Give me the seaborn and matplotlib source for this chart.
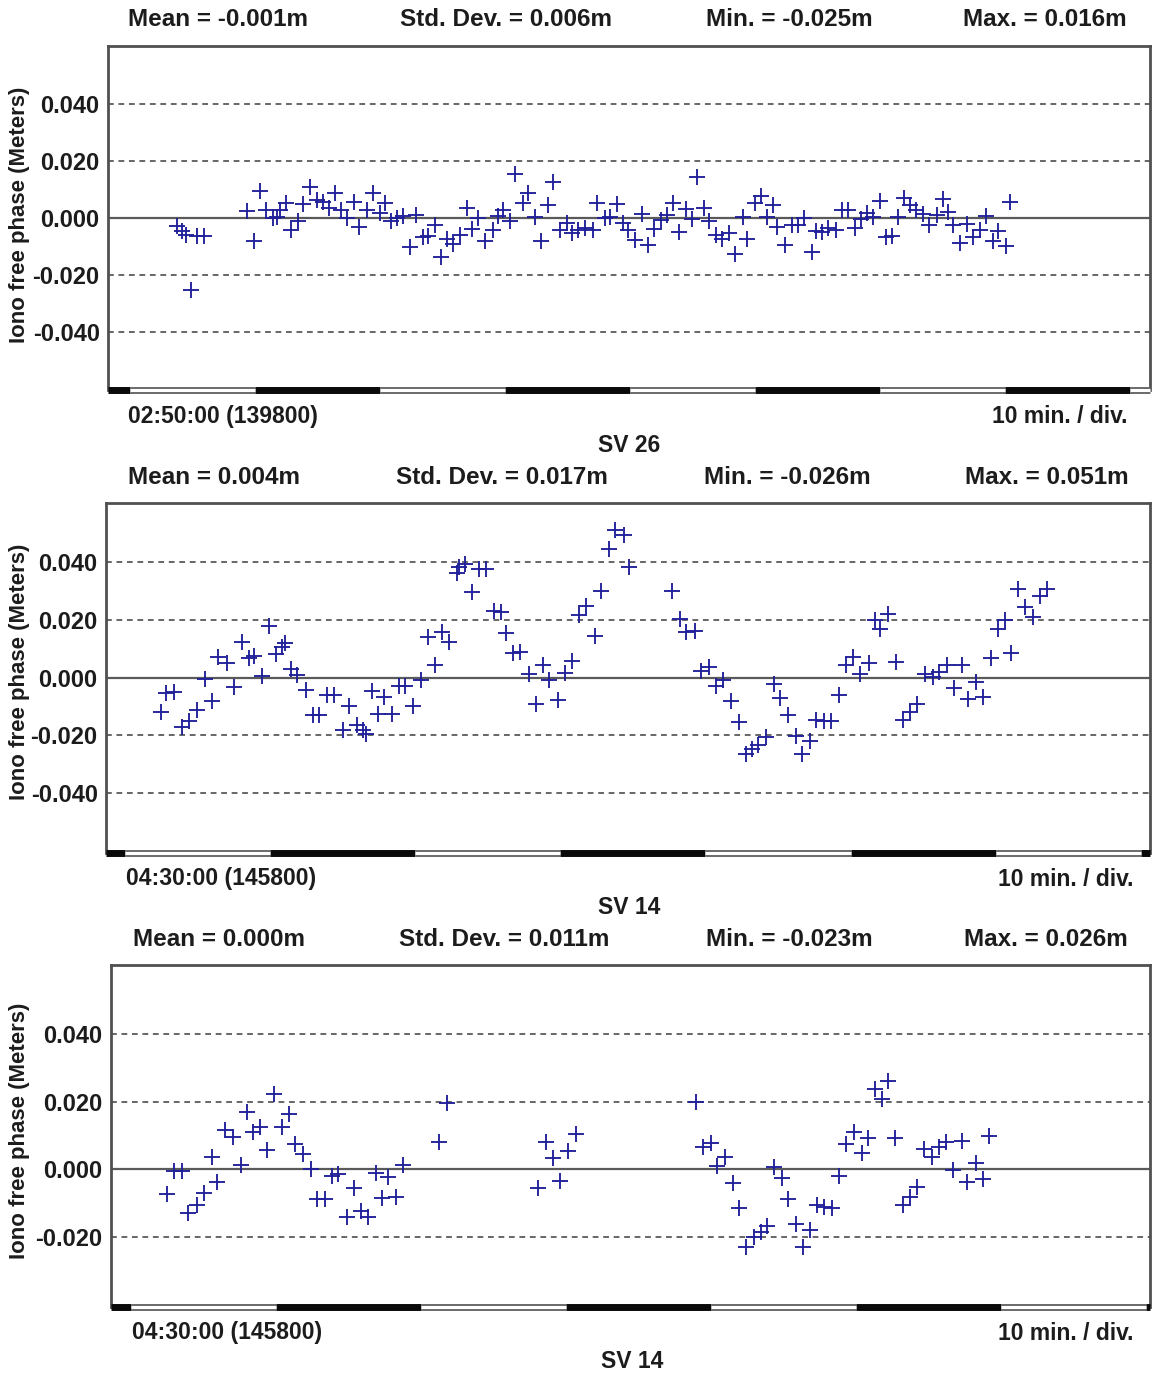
import matplotlib
matplotlib.use("Agg")
import matplotlib.pyplot as plt
import matplotlib.transforms as mtransforms
import seaborn as sns

# ---------------------------------------------------------------------------
# Iono-free phase residuals (minutes after start of pass, metres)
# ---------------------------------------------------------------------------
sv26_minutes = [
    5.54, 5.90, 6.24, 6.62, 7.10, 7.68, 11.10, 11.68, 12.16, 12.62,
    13.18, 13.50, 13.76, 14.22, 14.62, 15.22, 15.58, 16.16, 16.70, 17.18,
    17.70, 18.16, 18.62, 19.14, 19.68, 20.10, 20.70, 21.18, 21.76, 22.16,
    22.62, 23.10, 23.62, 24.16, 24.64, 25.18, 25.62, 26.16, 26.62, 27.10,
    27.62, 28.16, 28.70, 29.10, 29.62, 30.16, 30.78, 31.22, 31.62, 32.16,
    32.56, 33.18, 33.62, 34.16, 34.62, 35.22, 35.62, 36.16, 36.70, 37.10,
    37.62, 38.16, 38.78, 39.14, 39.76, 40.16, 40.74, 41.18, 41.62, 42.16,
    42.70, 43.22, 43.68, 44.22, 44.70, 45.22, 45.70, 46.24, 46.70, 47.10,
    47.68, 48.10, 48.64, 49.10, 49.70, 50.16, 50.78, 51.14, 51.76, 52.22,
    52.70, 53.22, 53.54, 54.16, 54.70, 55.22, 55.68, 56.30, 56.64, 57.10,
    57.62, 58.24, 58.70, 59.22, 59.76, 60.22, 60.74, 61.22, 61.76, 62.24,
    62.70, 63.22, 63.68, 64.16, 64.64, 65.18, 65.70, 66.30, 66.78, 67.22,
    67.62, 68.16, 68.70, 69.18, 69.76, 70.24, 70.78, 71.22, 71.84, 72.16,
]
sv26_resid = [
    -0.0028, -0.0046, -0.0060, -0.0253, -0.0063, -0.0063, 0.0025, -0.0080, 0.0096, 0.0028,
    -0.0001, 0.0005, 0.0028, 0.0053, -0.0042, -0.0009, 0.0049, 0.0108, 0.0063, 0.0057,
    0.0034, 0.0087, 0.0028, -0.0001, 0.0057, -0.0031, 0.0028, 0.0087, 0.0016, 0.0054,
    -0.0009, -0.0001, 0.0007, -0.0101, 0.0011, -0.0068, -0.0063, -0.0025, -0.0138, -0.0075,
    -0.0091, -0.0060, 0.0034, -0.0040, -0.0001, -0.0080, -0.0042, 0.0007, 0.0028, -0.0009,
    0.0154, 0.0052, 0.0087, 0.0005, -0.0080, 0.0046, 0.0127, -0.0042, -0.0016, -0.0054,
    -0.0042, -0.0036, -0.0042, 0.0054, -0.0001, 0.0005, 0.0049, -0.0019, -0.0042, -0.0077,
    0.0014, -0.0095, -0.0040, -0.0007, 0.0011, 0.0052, -0.0048, 0.0031, -0.0005, 0.0143,
    0.0034, -0.0009, -0.0060, -0.0075, -0.0054, -0.0126, 0.0005, -0.0075, 0.0054, 0.0077,
    0.0005, 0.0046, -0.0033, -0.0095, -0.0025, -0.0025, -0.0001, -0.0118, -0.0045, -0.0048,
    -0.0036, -0.0042, 0.0028, 0.0028, -0.0036, -0.0005, 0.0019, 0.0005, 0.0061, -0.0066,
    -0.0063, 0.0005, 0.0069, 0.0046, 0.0028, 0.0014, -0.0025, 0.0011, 0.0066, 0.0022,
    -0.0025, -0.0087, -0.0021, -0.0068, -0.0042, 0.0007, -0.0080, -0.0045, -0.0098, 0.0057,
]

sv14a_minutes = [
    3.77, 4.12, 4.69, 5.26, 5.72, 6.30, 6.83, 7.33, 7.75, 8.37,
    8.83, 9.36, 9.86, 10.21, 10.74, 11.24, 11.70, 12.12, 12.35, 12.74,
    13.19, 13.77, 14.23, 14.69, 15.26, 15.72, 16.30, 16.76, 17.26, 17.68,
    17.91, 18.32, 18.71, 19.17, 19.70, 20.21, 20.62, 21.12, 21.70, 22.16,
    22.69, 23.15, 23.66, 24.16, 24.35, 24.76, 25.22, 25.72, 26.19, 26.76,
    27.22, 27.57, 28.02, 28.53, 29.13, 29.64, 30.09, 30.55, 31.13, 31.59,
    32.12, 32.57, 33.08, 33.66, 34.12, 34.64, 35.10, 35.66, 36.02, 39.01,
    39.52, 39.98, 40.55, 41.01, 41.54, 42.05, 42.50, 43.08, 43.61, 44.07,
    44.53, 44.92, 45.45, 46.00, 46.41, 46.99, 47.52, 47.98, 48.48, 48.95,
    49.45, 49.98, 50.50, 51.01, 51.47, 51.98, 52.57, 52.97, 53.36, 53.88,
    54.41, 54.88, 55.38, 55.88, 56.42, 56.95, 57.40, 57.91, 58.42, 58.95,
    59.40, 59.93, 60.44, 60.95, 61.47, 61.93, 62.32, 62.85, 63.31, 63.84,
    64.34, 64.85,
]
sv14a_resid = [
    -0.0120, -0.0054, -0.0051, -0.0172, -0.0149, -0.0114, -0.0004, -0.0080, 0.0073, 0.0049,
    -0.0031, 0.0122, 0.0068, 0.0076, 0.0007, 0.0180, 0.0082, 0.0107, 0.0119, 0.0030,
    0.0010, -0.0043, -0.0131, -0.0131, -0.0059, -0.0059, -0.0183, -0.0100, -0.0166, -0.0183,
    -0.0195, -0.0047, -0.0126, -0.0068, -0.0126, -0.0028, -0.0028, -0.0100, -0.0010, 0.0139,
    0.0042, 0.0157, 0.0122, 0.0364, 0.0382, 0.0395, 0.0295, 0.0376, 0.0376, 0.0232,
    0.0226, 0.0153, 0.0084, 0.0088, 0.0013, -0.0093, 0.0042, -0.0010, -0.0077, 0.0015,
    0.0059, 0.0218, 0.0249, 0.0145, 0.0301, 0.0445, 0.0511, 0.0495, 0.0384, 0.0301,
    0.0203, 0.0157, 0.0163, 0.0022, 0.0036, -0.0028, -0.0010, -0.0082, -0.0155, -0.0266,
    -0.0247, -0.0235, -0.0207, -0.0024, -0.0070, -0.0131, -0.0201, -0.0266, -0.0220, -0.0146,
    -0.0149, -0.0151, -0.0062, 0.0042, 0.0070, 0.0013, 0.0049, 0.0200, 0.0168, 0.0220,
    0.0053, -0.0146, -0.0120, -0.0093, 0.0013, 0.0001, 0.0018, 0.0042, -0.0036, 0.0042,
    -0.0074, -0.0016, -0.0068, 0.0068, 0.0169, 0.0200, 0.0084, 0.0307, 0.0243, 0.0209,
    0.0284, 0.0307,
]

sv14b_minutes = [
    3.84, 4.34, 4.88, 5.33, 5.91, 6.41, 6.95, 7.33, 7.86, 8.39,
    8.95, 9.36, 9.81, 10.28, 10.78, 11.24, 11.77, 12.30, 12.69, 13.26,
    13.77, 14.23, 14.76, 15.22, 15.68, 16.26, 16.76, 17.22, 17.75, 18.28,
    18.67, 19.13, 19.66, 20.16, 22.64, 23.15, 29.47, 30.00, 30.46, 30.97,
    31.54, 32.07, 40.35, 40.81, 41.36, 41.82, 42.35, 42.88, 43.33, 43.80,
    44.35, 44.81, 45.26, 45.73, 46.26, 46.71, 47.24, 47.71, 48.21, 48.71,
    49.18, 49.71, 50.23, 50.69, 51.24, 51.77, 52.23, 52.69, 53.15, 53.61,
    54.07, 54.60, 55.11, 55.61, 56.07, 56.60, 57.13, 57.59, 58.09, 58.67,
    59.06, 59.66, 60.12, 60.58,
]
sv14b_resid = [
    -0.0072, -0.0006, -0.0006, -0.0127, -0.0105, -0.0068, 0.0038, -0.0036, 0.0117, 0.0095,
    0.0013, 0.0168, 0.0109, 0.0124, 0.0058, 0.0223, 0.0124, 0.0164, 0.0075, 0.0046,
    0.0001, -0.0088, -0.0088, -0.0019, -0.0013, -0.0139, -0.0055, -0.0122, -0.0139, -0.0009,
    -0.0085, -0.0023, -0.0082, 0.0013, 0.0082, 0.0195, -0.0055, 0.0082, 0.0033, -0.0033,
    0.0055, 0.0105, 0.0198, 0.0065, 0.0079, 0.0010, 0.0036, -0.0041, -0.0114, -0.0228,
    -0.0198, -0.0183, -0.0167, 0.0006, -0.0026, -0.0088, -0.0161, -0.0228, -0.0178, -0.0105,
    -0.0110, -0.0114, -0.0019, 0.0075, 0.0109, 0.0048, 0.0092, 0.0237, 0.0207, 0.0259,
    0.0092, -0.0105, -0.0080, -0.0051, 0.0060, 0.0036, 0.0065, 0.0082, -0.0001, 0.0085,
    -0.0036, 0.0018, -0.0029, 0.0099,
]

# Header statistics and captions
stats_sv26 = ["Mean = -0.001m", "Std. Dev. = 0.006m", "Min. = -0.025m", "Max. = 0.016m"]
stats_sv14a = ["Mean = 0.004m", "Std. Dev. = 0.017m", "Min. = -0.026m", "Max. = 0.051m"]
stats_sv14b = ["Mean = 0.000m", "Std. Dev. = 0.011m", "Min. = -0.023m", "Max. = 0.026m"]
start_labels = ["02:50:00 (139800)", "04:30:00 (145800)", "04:30:00 (145800)"]
sv_labels = ["SV 26", "SV 14", "SV 14"]
scale_label = "10 min. / div."
y_label = "Iono free phase (Meters)"

ticks_full = [0.04, 0.02, 0.0, -0.02, -0.04]
ticks_full_labels = ["0.040", "0.020", "0.000", "-0.020", "-0.040"]
ticks_short = [0.04, 0.02, 0.0, -0.02]
ticks_short_labels = ["0.040", "0.020", "0.000", "-0.020"]

# ---------------------------------------------------------------------------
W, H = 1152, 1373
DPI = 100
sns.set_style("white")
plt.rcParams["font.family"] = ["Liberation Sans", "DejaVu Sans"]
plt.rcParams["font.weight"] = "bold"

fig = plt.figure(figsize=(W / DPI, H / DPI), dpi=DPI)
fig.patch.set_facecolor("white")

MARK = "#20209a"
TXT = "#1c1c1c"
GRID = "#5a5a5a"


def px(x, y):
    return x / W, 1 - y / H


panels = [
    dict(box=(108, 46, 1150, 390), t=sv26_minutes, v=sv26_resid, xmax=83.36,
         ylim=(-0.0603, 0.0603), ticks=ticks_full, labels=ticks_full_labels,
         bar0=1.76, stats=stats_sv26, stat_x=(128, 400, 706, 963), stat_y=20,
         start=start_labels[0], sv=sv_labels[0], cap_y=417, sv_xy=(629, 446),
         start_x=128, scale_x=1128, ylab_y=215),
    dict(box=(106, 503, 1150, 853), t=sv14a_minutes, v=sv14a_resid, xmax=71.93,
         ylim=(-0.0608, 0.0605), ticks=ticks_full, labels=ticks_full_labels,
         bar0=1.3, stats=stats_sv14a, stat_x=(128, 396, 704, 965), stat_y=478,
         start=start_labels[1], sv=sv_labels[1], cap_y=879, sv_xy=(629, 908),
         start_x=126, scale_x=1133, ylab_y=672),
    dict(box=(111, 965, 1150, 1307), t=sv14b_minutes, v=sv14b_resid, xmax=71.66,
         ylim=(-0.0405, 0.0602), ticks=ticks_short, labels=ticks_short_labels,
         bar0=1.4, stats=stats_sv14b, stat_x=(133, 399, 706, 964), stat_y=940,
         start=start_labels[2], sv=sv_labels[2], cap_y=1333, sv_xy=(632, 1362),
         start_x=132, scale_x=1133, ylab_y=1131),
]

for p in panels:
    x0, y0, x1, y1 = p["box"]
    ax = fig.add_axes([x0 / W, 1 - y1 / H, (x1 - x0) / W, (y1 - y0) / H])
    ax.set_facecolor("white")

    # reference lines
    for tv in p["ticks"]:
        if tv == 0.0:
            ax.axhline(0.0, color=GRID, lw=1.6, zorder=1)
        else:
            ax.axhline(tv, color=GRID, lw=1.3, ls=(0, (3.2, 2.6)), zorder=1)

    sns.scatterplot(x=p["t"], y=p["v"], marker="+", s=130, color=MARK,
                    linewidth=1.35, ax=ax, zorder=3, legend=False)

    ax.set_xlim(0, p["xmax"])
    ax.set_ylim(*p["ylim"])
    ax.set_xticks([])
    ax.set_yticks(p["ticks"])
    ax.set_yticklabels(p["labels"], fontsize=17, fontweight="bold", color=TXT)
    ax.tick_params(axis="y", length=0, pad=6)
    ax.set_xlabel("")
    ax.set_ylabel("")

    for side in ("top", "left", "right"):
        ax.spines[side].set_color("#505050")
        ax.spines[side].set_linewidth(2.0)
    ax.spines["bottom"].set_visible(False)

    # time-division bar along the bottom edge (10 minutes per division)
    tr = mtransforms.blended_transform_factory(ax.transData, ax.transAxes)
    edges = [0.0]
    b = p["bar0"]
    while b < p["xmax"]:
        edges.append(b)
        b += 10.0
    edges.append(p["xmax"])
    for i in range(len(edges) - 1):
        xa, xb = edges[i], edges[i + 1]
        if i % 2 == 0:
            ax.plot([xa, xb], [0, 0], color="#0a0a0a", lw=5.0, transform=tr,
                    solid_capstyle="butt", clip_on=False, zorder=5)
        else:
            ax.plot([xa, xb], [0, 0], color="#6a6a6a", lw=5.0, transform=tr,
                    solid_capstyle="butt", clip_on=False, zorder=5)
            ax.plot([xa, xb], [0, 0], color="white", lw=2.2, transform=tr,
                    solid_capstyle="butt", clip_on=False, zorder=6)

    # header statistics
    for txt, sx in zip(p["stats"], p["stat_x"]):
        fig.text(*px(sx, p["stat_y"]), txt, fontsize=17.5, fontweight="bold",
                 color=TXT, ha="left", va="center")

    # captions under the panel
    fig.text(*px(p["start_x"], p["cap_y"]), p["start"], fontsize=16.5,
             fontweight="bold", color=TXT, ha="left", va="center")
    fig.text(*px(p["scale_x"], p["cap_y"]), scale_label, fontsize=16.5,
             fontweight="bold", color=TXT, ha="right", va="center")
    fig.text(*px(*p["sv_xy"]), p["sv"], fontsize=16.5, fontweight="bold",
             color=TXT, ha="center", va="center")

    fig.text(*px(20, p["ylab_y"]), y_label, fontsize=16, fontweight="bold",
             color=TXT, rotation=90, ha="center", va="center")

fig.savefig("out.png", dpi=DPI, facecolor="white")
